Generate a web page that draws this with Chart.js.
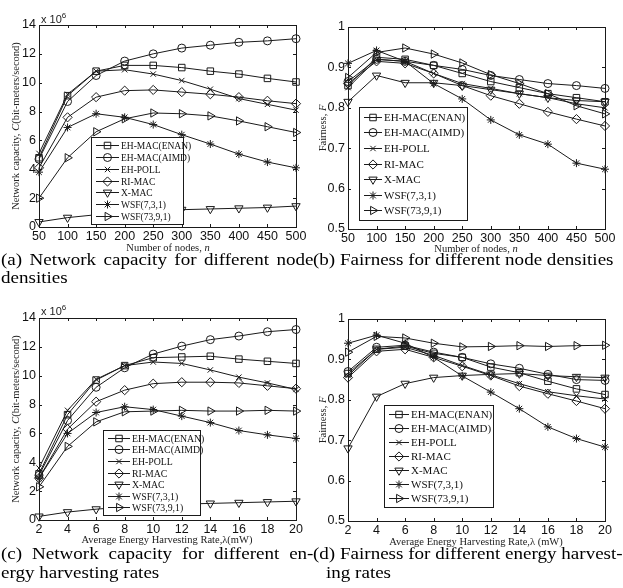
<!DOCTYPE html>
<html>
<head>
<meta charset="utf-8">
<script src="https://cdn.jsdelivr.net/npm/chart.js@4.4.0/dist/chart.umd.min.js"></script>
<style>
body{margin:0;background:#fff;width:623px;height:588px;position:relative;overflow:hidden;color:#000}
canvas{position:absolute}
.t{position:absolute;font-family:'Liberation Serif',serif;font-size:10.5px;white-space:nowrap;color:#222;transform:translate(-50%,-50%)}
.ty{transform:translate(-50%,-50%) rotate(-90deg)}
.cap{position:absolute;font-family:'Liberation Serif',serif;font-size:17px;white-space:nowrap;line-height:19px;transform:scaleX(1.12);transform-origin:0 0}
.just{text-align:justify;text-align-last:justify;white-space:normal}
.e{position:absolute;font-family:'Liberation Sans',sans-serif;font-size:11px;color:#222}
</style>
</head>
<body>
<canvas id="ca" width="311" height="250" style="left:0;top:0"></canvas>
<canvas id="cb" width="311" height="250" style="left:312px;top:0"></canvas>
<canvas id="cc" width="311" height="250" style="left:0;top:293px"></canvas>
<canvas id="cd" width="311" height="250" style="left:312px;top:293px"></canvas>

<div class="e" style="left:41px;top:11px">x 10<sup style="font-size:8px">6</sup></div>
<div class="e" style="left:41px;top:303px">x 10<sup style="font-size:8px">6</sup></div>

<div class="t ty" style="left:15px;top:126px">Network capacity, <i>C</i>(bit-meters/second)</div>
<div class="t" style="left:168px;top:247px">Number of nodes, <i>n</i></div>
<div class="t ty" style="left:322px;top:128px">Fairness, <i>F</i></div>
<div class="t" style="left:476px;top:248px">Number of nodes, <i>n</i></div>
<div class="t ty" style="left:15px;top:419px">Network capacity, <i>C</i>(bit-meters/second)</div>
<div class="t" style="left:167px;top:539px">Average Energy Harvesting Rate,λ(mW)</div>
<div class="t ty" style="left:322px;top:420px">Fairness, <i>F</i></div>
<div class="t" style="left:476px;top:541px">Average Energy Harvesting Rate,λ (mW)</div>

<div class="cap just" style="left:1px;top:250px;width:279px">(a) Network capacity for different node</div>
<div class="cap" style="left:1px;top:268px">densities</div>
<div class="cap" style="left:313px;top:250px">(b) Fairness for different node densities</div>
<div class="cap just" style="left:1px;top:544px;width:279px">(c) Network capacity for different en-</div>
<div class="cap" style="left:1px;top:563px">ergy harvesting rates</div>
<div class="cap" style="left:313px;top:544px">(d) Fairness for different energy harvest-</div>
<div class="cap" style="left:326px;top:563px">ing rates</div>

<script>
// x values
var nodes = [50, 100, 150, 200, 250, 300, 350, 400, 450, 500];
var rates = [2, 4, 6, 8, 10, 12, 14, 16, 18, 20];
var names = ['EH-MAC(ENAN)', 'EH-MAC(AIMD)', 'EH-POLL', 'RI-MAC', 'X-MAC', 'WSF(7,3,1)', 'WSF(73,9,1)'];

// (a) capacity vs nodes (x 10^6)
var capN_enan  = [4.8, 9.1, 10.8, 11.2, 11.2, 11.05, 10.8, 10.6, 10.3, 10.05];
var capN_aimd  = [4.7, 8.7, 10.5, 11.5, 12.0, 12.4, 12.6, 12.8, 12.9, 13.05];
var capN_poll  = [5.1, 9.2, 10.8, 10.9, 10.6, 10.15, 9.55, 8.9, 8.5, 8.1];
var capN_ri    = [4.1, 7.6, 9.0, 9.45, 9.5, 9.35, 9.2, 9.0, 8.75, 8.55];
var capN_xmac  = [0.35, 0.65, 0.85, 1.0, 1.1, 1.2, 1.25, 1.3, 1.35, 1.45];
var capN_w731  = [3.8, 6.9, 7.85, 7.6, 7.1, 6.4, 5.75, 5.05, 4.5, 4.1];
var capN_w7391 = [2.0, 4.8, 6.6, 7.5, 7.9, 7.85, 7.7, 7.35, 6.95, 6.55];

// (b) fairness vs nodes
var fairN_enan  = [0.855, 0.925, 0.92, 0.905, 0.885, 0.865, 0.85, 0.835, 0.825, 0.815];
var fairN_aimd  = [0.865, 0.92, 0.915, 0.905, 0.895, 0.88, 0.87, 0.86, 0.855, 0.848];
var fairN_poll  = [0.85, 0.92, 0.915, 0.885, 0.86, 0.848, 0.835, 0.825, 0.81, 0.80];
var fairN_ri    = [0.86, 0.915, 0.91, 0.885, 0.855, 0.83, 0.81, 0.79, 0.772, 0.755];
var fairN_xmac  = [0.815, 0.88, 0.862, 0.862, 0.855, 0.845, 0.835, 0.825, 0.818, 0.815];
var fairN_w731  = [0.91, 0.942, 0.915, 0.86, 0.822, 0.77, 0.733, 0.71, 0.663, 0.648];
var fairN_w7391 = [0.875, 0.937, 0.948, 0.933, 0.911, 0.882, 0.86, 0.835, 0.805, 0.785];

// (c) capacity vs harvesting rate (x 10^6)
var capR_enan  = [3.2, 7.3, 9.7, 10.7, 11.25, 11.3, 11.35, 11.15, 11.0, 10.85];
var capR_aimd  = [3.1, 6.9, 9.2, 10.55, 11.5, 12.05, 12.5, 12.75, 13.05, 13.2];
var capR_poll  = [3.6, 7.6, 9.75, 10.7, 10.95, 10.85, 10.4, 9.9, 9.5, 9.05];
var capR_ri    = [2.9, 6.3, 8.2, 9.0, 9.45, 9.55, 9.55, 9.5, 9.3, 9.1];
var capR_xmac  = [0.25, 0.55, 0.75, 0.9, 1.0, 1.1, 1.15, 1.2, 1.25, 1.3];
var capR_w731  = [2.9, 6.0, 7.45, 7.85, 7.65, 7.2, 6.75, 6.2, 5.9, 5.65];
var capR_w7391 = [2.3, 5.1, 6.8, 7.5, 7.55, 7.6, 7.55, 7.55, 7.6, 7.55];

// (d) fairness vs harvesting rate
var fairR_enan  = [0.865, 0.925, 0.933, 0.915, 0.905, 0.881, 0.867, 0.846, 0.827, 0.813];
var fairR_aimd  = [0.87, 0.93, 0.935, 0.918, 0.905, 0.889, 0.878, 0.863, 0.85, 0.848];
var fairR_poll  = [0.86, 0.925, 0.93, 0.91, 0.885, 0.862, 0.84, 0.82, 0.81, 0.802];
var fairR_ri    = [0.855, 0.92, 0.925, 0.905, 0.883, 0.86, 0.834, 0.815, 0.797, 0.778];
var fairR_xmac  = [0.68, 0.808, 0.84, 0.855, 0.86, 0.863, 0.865, 0.86, 0.857, 0.855];
var fairR_w731  = [0.94, 0.96, 0.94, 0.905, 0.859, 0.819, 0.778, 0.733, 0.704, 0.683];
var fairR_w7391 = [0.918, 0.957, 0.953, 0.94, 0.931, 0.932, 0.934, 0.932, 0.934, 0.935];

// marker per series: square, circle, x, diamond, down tri, asterisk, right tri
var markers = [
  {style: 'rect', rot: 0, r: 4.6},
  {style: 'circle', rot: 0, r: 4},
  {style: 'crossRot', rot: 0, r: 3.8},
  {style: 'rectRot', rot: 0, r: 4.6},
  {style: 'triangle', rot: 180, r: 4.8},
  {style: 'star', rot: 0, r: 4},
  {style: 'triangle', rot: 90, r: 4.8}
];

var INK = '#1a1a1a';

// box around plot with inward ticks on all sides
var boxPlugin = {
  id: 'box',
  afterDatasetsDraw(chart) {
    var ctx = chart.ctx, a = chart.chartArea, x = chart.scales.x, y = chart.scales.y;
    ctx.save();
    ctx.strokeStyle = INK;
    ctx.lineWidth = 1;
    ctx.strokeRect(Math.round(a.left) + 0.5, Math.round(a.top) + 0.5, Math.round(a.width), Math.round(a.height));
    ctx.beginPath();
    x.ticks.forEach(function (t) {
      var px = Math.round(x.getPixelForValue(t.value)) + 0.5;
      ctx.moveTo(px, a.bottom); ctx.lineTo(px, a.bottom - 3);
      ctx.moveTo(px, a.top); ctx.lineTo(px, a.top + 3);
    });
    y.ticks.forEach(function (t) {
      var py = Math.round(y.getPixelForValue(t.value)) + 0.5;
      ctx.moveTo(a.left, py); ctx.lineTo(a.left + 3, py);
      ctx.moveTo(a.right, py); ctx.lineTo(a.right - 3, py);
    });
    ctx.stroke();
    ctx.restore();
  }
};

// matlab style legend box inside the axes
var legendBox = {
  id: 'legendBox',
  afterDraw(chart, args, o) {
    var ctx = chart.ctx;
    ctx.save();
    ctx.fillStyle = '#fff';
    ctx.fillRect(o.x, o.y, o.w, o.h);
    ctx.strokeStyle = INK;
    ctx.lineWidth = 1;
    ctx.strokeRect(o.x + 0.5, o.y + 0.5, o.w, o.h);
    ctx.font = o.font + 'px "Liberation Serif"';
    ctx.textBaseline = 'middle';
    var pitch = (o.h - 4) / chart.data.datasets.length;
    chart.data.datasets.forEach(function (ds, i) {
      var cy = Math.round(o.y + 2 + pitch * (i + 0.5)) + 0.5;
      var x0 = o.x + 5, x1 = x0 + o.len;
      ctx.strokeStyle = INK;
      ctx.beginPath(); ctx.moveTo(x0, cy); ctx.lineTo(x1, cy); ctx.stroke();
      ctx.fillStyle = 'rgba(0,0,0,0)';
      Chart.helpers.drawPoint(ctx, {pointStyle: ds.pointStyle, rotation: ds.pointRotation, radius: ds.pointRadius, borderWidth: 1}, (x0 + x1) / 2, cy);
      ctx.fillStyle = '#111';
      ctx.fillText(ds.label, x1 + 2, cy + 0.5);
    });
    ctx.restore();
  }
};

function makePanel(id, xs, series, cfg) {
  var datasets = series.map(function (vals, i) {
    return {
      label: names[i],
      data: vals.map(function (v, k) { return {x: xs[k], y: v}; }),
      borderColor: INK,
      borderWidth: 1,
      pointStyle: markers[i].style,
      pointRotation: markers[i].rot,
      pointRadius: markers[i].r,
      pointBorderColor: INK,
      pointBackgroundColor: 'rgba(0,0,0,0)',
      pointBorderWidth: 1,
      tension: 0,
      clip: false
    };
  });
  var tickFont = {family: 'Liberation Sans', size: 12.5};
  return new Chart(document.getElementById(id), {
    type: 'line',
    data: {datasets: datasets},
    options: {
      responsive: false,
      animation: false,
      layout: {padding: {left: 0, top: cfg.top, right: cfg.right, bottom: 0}},
      plugins: {legend: {display: false}, tooltip: {enabled: false}, legendBox: cfg.legend},
      scales: {
        x: {
          type: 'linear', min: cfg.xmin, max: cfg.xmax,
          grid: {display: false, drawTicks: false}, border: {display: false},
          ticks: {stepSize: cfg.xstep, autoSkip: false, maxRotation: 0, color: '#111', font: tickFont, padding: 2},
          afterFit: function (s) { s.height = cfg.xh; }
        },
        y: {
          min: cfg.ymin, max: cfg.ymax,
          grid: {display: false, drawTicks: false}, border: {display: false},
          ticks: {stepSize: cfg.ystep, color: '#111', font: tickFont, padding: 3,
            callback: function (v) { return String(+v.toFixed(1)); }},
          afterFit: function (s) { s.width = cfg.yw; }
        }
      }
    },
    plugins: [boxPlugin, legendBox]
  });
}

makePanel('ca', nodes, [capN_enan, capN_aimd, capN_poll, capN_ri, capN_xmac, capN_w731, capN_w7391], {
  xmin: 50, xmax: 500, xstep: 50, ymin: 0, ymax: 14, ystep: 2,
  top: 25, right: 15, yw: 39, xh: 23,
  legend: {x: 91, y: 137, w: 92, h: 87, font: 9.5, len: 23}
});
makePanel('cb', nodes, [fairN_enan, fairN_aimd, fairN_poll, fairN_ri, fairN_xmac, fairN_w731, fairN_w7391], {
  xmin: 50, xmax: 500, xstep: 50, ymin: 0.5, ymax: 1, ystep: 0.1,
  top: 27, right: 18, yw: 36, xh: 21,
  legend: {x: 47, y: 107, w: 108, h: 113, font: 11, len: 18}
});
makePanel('cc', rates, [capR_enan, capR_aimd, capR_poll, capR_ri, capR_xmac, capR_w731, capR_w7391], {
  xmin: 2, xmax: 20, xstep: 2, ymin: 0, ymax: 14, ystep: 2,
  top: 25, right: 15, yw: 39, xh: 23,
  legend: {x: 103, y: 137, w: 97, h: 85, font: 9.8, len: 22}
});
makePanel('cd', rates, [fairR_enan, fairR_aimd, fairR_poll, fairR_ri, fairR_xmac, fairR_w731, fairR_w7391], {
  xmin: 2, xmax: 20, xstep: 2, ymin: 0.5, ymax: 1, ystep: 0.1,
  top: 26, right: 18, yw: 36, xh: 22,
  legend: {x: 72, y: 112, w: 109, h: 102, font: 11, len: 20}
});
</script>
</body>
</html>
